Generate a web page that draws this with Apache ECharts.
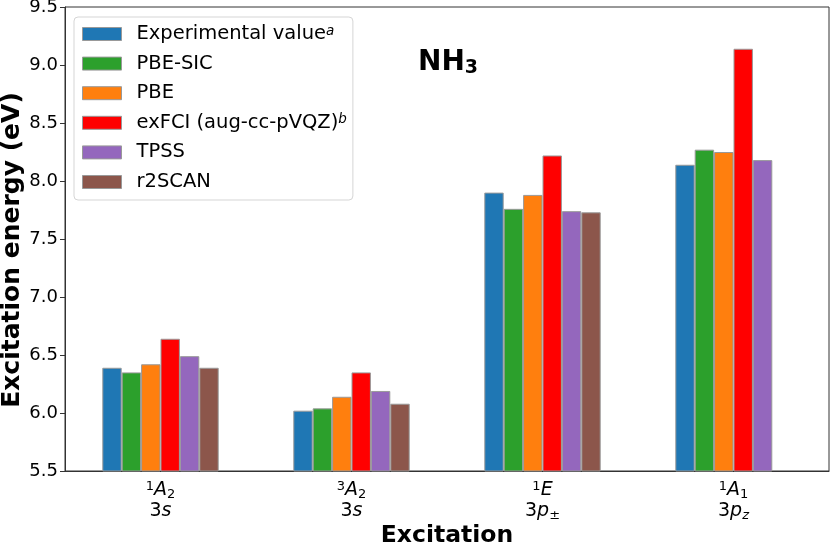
<!DOCTYPE html>
<html><head><meta charset="utf-8">
<script src="https://cdn.jsdelivr.net/npm/echarts@6/dist/echarts.min.js"></script>
<style>html,body{margin:0;padding:0;background:#fff}#c{width:830px;height:554px}</style>
</head><body><div id="c"></div>
<script>
const categories = ['1A2_3s', '3A2_3s', '1E_3p', '1A1_3pz'];
const seriesNames = ['Experimental value', 'PBE-SIC', 'PBE', 'exFCI (aug-cc-pVQZ)', 'TPSS', 'r2SCAN'];
const experimental = [6.39, 6.02, 7.90, 8.14];
const pbeSic = [6.35, 6.04, 7.76, 8.27];
const pbe = [6.42, 6.14, 7.88, 8.25];
const exFCI = [6.64, 6.35, 8.22, 9.14];
const tpss = [6.49, 6.19, 7.74, 8.18];
const r2scan = [6.39, 6.08, 7.73, null];
const yTicks = ['5.5','6.0','6.5','7.0','7.5','8.0','8.5','9.0','9.5'];

const colors = ['#1f77b4', '#2ca02c', '#ff7f0e', '#ff0000', '#9467bd', '#8c564b'];
const allData = [experimental, pbeSic, pbe, exFCI, tpss, r2scan];
const font = 'DejaVu Sans';

const labelRich = {
  sup: {fontFamily: font, fontSize: 13, verticalAlign: 'top', lineHeight: 14, color: '#000'},
  it: {fontFamily: font, fontSize: 19, fontStyle: 'italic', lineHeight: 21, color: '#000'},
  n: {fontFamily: font, fontSize: 19, lineHeight: 21, color: '#000'},
  sub: {fontFamily: font, fontSize: 13, fontStyle: 'italic', verticalAlign: 'bottom', lineHeight: 12, color: '#000'},
  subn: {fontFamily: font, fontSize: 13, verticalAlign: 'bottom', lineHeight: 12, color: '#000'}
};
const labelText = {
  '1A2_3s': '{sup|1}{it|A}{subn|2}\n{n|3}{it|s}',
  '3A2_3s': '{sup|3}{it|A}{subn|2}\n{n|3}{it|s}',
  '1E_3p': '{sup|1}{it|E}\n{n|3}{it|p}{subn|±}',
  '1A1_3pz': '{sup|1}{it|A}{subn|1}\n{n|3}{it|p}{sub|z}'
};
const legendSup = {'Experimental value': 'a', 'exFCI (aug-cc-pVQZ)': 'b'};

const chart = echarts.init(document.getElementById('c'), null, {renderer: 'canvas'});
chart.setOption({
  animation: false,
  backgroundColor: '#fff',
  grid: {left: 65, right: 1, top: 7, bottom: 83, containLabel: false, outerBoundsMode: 'none',
    show: true, borderColor: '#333', borderWidth: 1},
  title: {
    text: '{b|NH}{s|3}', left: 413, top: 43,
    textStyle: {rich: {
      b: {fontFamily: font, fontSize: 28, fontWeight: 'bold', color: '#000', lineHeight: 30},
      s: {fontFamily: font, fontSize: 19, color: '#000', verticalAlign: 'bottom', lineHeight: 14}
    }}
  },
  legend: {
    orient: 'vertical', left: 74, top: 17,
    padding: [7, 6, 8, 8],
    itemWidth: 39, itemHeight: 13, itemGap: 9.6, icon: 'rect',
    borderColor: '#d5d5d5', borderWidth: 1, borderRadius: 4,
    backgroundColor: 'rgba(255,255,255,0.8)',
    data: seriesNames.map(n => ({name: n, itemStyle: {borderColor: '#999', borderWidth: 1}})),
    formatter: n => legendSup[n] ? '{t|' + n + '}{s|' + legendSup[n] + '}' : '{t|' + n + '}',
    textStyle: {
      fontFamily: font, fontSize: 19.5, color: '#000', padding: [0,0,0,10],
      rich: {
        t: {fontFamily: font, fontSize: 19.5, color: '#000', lineHeight: 20},
        s: {fontFamily: font, fontSize: 13.5, fontStyle: 'italic', color: '#000', verticalAlign: 'top', lineHeight: 12}
      }
    }
  },
  xAxis: {
    type: 'category', data: categories,
    axisLine: {lineStyle: {color: '#333', width: 1}},
    axisTick: {alignWithLabel: true, length: 5, lineStyle: {color: '#333'}},
    axisLabel: {margin: 9, formatter: v => labelText[v], rich: labelRich, lineHeight: 21},
    name: 'Excitation', nameLocation: 'middle', nameGap: 53, nameMoveOverlap: false,
    nameTextStyle: {fontFamily: font, fontSize: 23.5, fontWeight: 'bold', color: '#000'}
  },
  yAxis: {
    type: 'value', min: 5.5, max: 9.5, interval: 0.5,
    axisLine: {show: true, lineStyle: {color: '#333', width: 1}},
    axisTick: {show: true, length: 5, lineStyle: {color: '#333'}},
    splitLine: {show: false},
    axisLabel: {fontFamily: font, fontSize: 18, color: '#000', margin: 7,
      formatter: v => yTicks[Math.round((v - 5.5) / 0.5)]},
    name: 'Excitation energy (eV)', nameLocation: 'middle', nameGap: 40, nameMoveOverlap: false,
    nameTextStyle: {fontFamily: font, fontSize: 25, fontWeight: 'bold', color: '#000', padding: [0, 22, 0, 0]}
  },
  series: seriesNames.map((n, i) => ({
    name: n, type: 'bar', data: allData[i],
    barWidth: 19.4, barGap: '0%',
    itemStyle: {color: colors[i], borderColor: '#999', borderWidth: 1}
  }))
});
</script></body></html>
